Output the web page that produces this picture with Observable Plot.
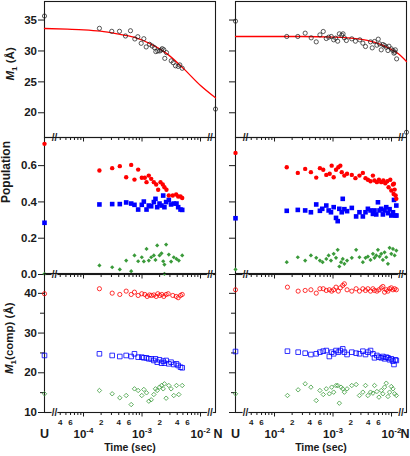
<!DOCTYPE html>
<html><head><meta charset="utf-8">
<script src="https://cdn.jsdelivr.net/npm/d3@7"></script>
<script src="https://cdn.jsdelivr.net/npm/@observablehq/plot@0.6"></script>
<style>
html,body{margin:0;padding:0;background:#fff;}
#chart{position:relative;width:410px;height:456px;overflow:hidden;background:#fff;}
#chart svg{position:absolute;}
</style></head><body><div id="chart"></div>
<script>
// ---------- data (time in sec, value) ----------
const xMin = 2.153e-5, xMax = 1.803e-2;        // positions of U and N
const breakTimes = [3.2e-5, 1.45e-2];
const majorTicks = [1e-4, 1e-3, 1e-2];
const majorTickText = ["10^-4", "10^-3", "10^-2"];
const minorTicks = [4e-5,5e-5,6e-5,7e-5,8e-5,9e-5,2e-4,3e-4,4e-4,5e-4,6e-4,7e-4,8e-4,9e-4,2e-3,3e-3,4e-3,5e-3,6e-3,7e-3,8e-3,9e-3];
const minorLabelTicks = [4e-5, 6e-5, 2e-4, 4e-4, 6e-4, 2e-3, 4e-3, 6e-3];
const minorLabelText = ["4", "6", "2", "4", "6", "2", "4", "6"];
const endText = ["U", "N"];

const m1TicksY = [20, 25, 30, 35];
const popTicksY = [0, 0.2, 0.4, 0.6];
const compTicksY = [10, 20, 30, 40];
const compMinorY = [15, 25, 35];

// top row: M1
const m1L = [[1.87e-4,33.66],[3.04e-4,33.18],[4.12e-4,33.18],[5.22e-4,32.42],[6.35e-4,33.27],[7.53e-4,31.94],[8.47e-4,32.30],[9.68e-4,31.24],[1.074e-3,31.98],[1.178e-3,30.65],[1.343e-3,31.08],[1.493e-3,30.80],[1.633e-3,30.53],[1.722e-3,29.89],[1.862e-3,30.00],[2.014e-3,30.00],[2.128e-3,30.16],[2.213e-3,30.37],[2.355e-3,30.20],[2.449e-3,28.80],[2.618e-3,29.73],[3.155e-3,28.40],[3.412e-3,28.10],[3.733e-3,27.60],[4.150e-3,27.50],[4.426e-3,27.74],[4.864e-3,27.20]];
const m1L_U = 35.65, m1L_N = 20.6;
const fitL = [[2.153e-5,33.63],[5.26e-5,33.52],[1.012e-4,33.42],[1.95e-4,33.2],[3.77e-4,32.77],[7.24e-4,32.23],[1.396e-3,31.15],[2.69e-3,29.53],[5.18e-3,27.1],[1e-2,24.4],[1.803e-2,22.41]];

const m1R = [[1.618e-4,32.34],[2.500e-4,32.34],[3.342e-4,32.88],[4.236e-4,32.12],[5.164e-4,31.47],[5.970e-4,32.60],[6.808e-4,33.15],[7.674e-4,32.01],[8.414e-4,32.23],[9.333e-4,32.34],[1.026e-3,31.80],[1.109e-3,32.07],[1.202e-3,31.58],[1.282e-3,32.77],[1.409e-3,32.55],[1.483e-3,32.77],[1.563e-3,32.12],[1.690e-3,31.69],[2.094e-3,31.96],[2.415e-3,31.58],[2.871e-3,31.80],[3.236e-3,31.26],[3.589e-3,30.72],[4.375e-3,31.47],[4.677e-3,30.50],[5.117e-3,31.53],[5.623e-3,30.93],[5.929e-3,31.91],[6.237e-3,31.15],[6.668e-3,30.18],[7.145e-3,31.04],[7.603e-3,30.88],[8.128e-3,30.61],[8.690e-3,30.07],[9.036e-3,30.77],[9.908e-3,30.34],[1.059e-2,30.07],[1.102e-2,29.64],[1.161e-2,30.18],[1.222e-2,28.72],[1.140e-2,29.80]];
const m1R_U = 34.82, m1R_N = 16.85;
const fitR = [[2.153e-5,32.34],[2.82e-4,32.34],[1.04e-3,32.25],[2.69e-3,31.96],[5.06e-3,31.42],[8.81e-3,30.5],[1.31e-2,29.53],[1.803e-2,28.29]];

// middle row: population
const popRedL = [[1.87e-4,0.573],[3.09e-4,0.586],[4.17e-4,0.597],[5.36e-4,0.536],[6.53e-4,0.604],[7.43e-4,0.523],[8.59e-4,0.578],[9.91e-4,0.533],[1.117e-3,0.533],[1.194e-3,0.509],[1.306e-3,0.545],[1.435e-3,0.527],[1.592e-3,0.509],[1.746e-3,0.496],[1.888e-3,0.467],[2.070e-3,0.509],[2.265e-3,0.496],[2.415e-3,0.481],[2.618e-3,0.467],[2.871e-3,0.435],[3.357e-3,0.435],[3.837e-3,0.441],[4.150e-3,0.430],[4.550e-3,0.430],[4.864e-3,0.422]];
const popBlueL = [[1.87e-4,0.386],[3.09e-4,0.388],[4.17e-4,0.388],[5.36e-4,0.397],[6.53e-4,0.391],[7.43e-4,0.384],[8.59e-4,0.358],[9.91e-4,0.384],[1.074e-3,0.402],[1.194e-3,0.358],[1.306e-3,0.380],[1.435e-3,0.376],[1.592e-3,0.399],[1.698e-3,0.417],[1.816e-3,0.371],[1.991e-3,0.391],[2.153e-3,0.380],[2.301e-3,0.435],[2.415e-3,0.371],[2.582e-3,0.399],[2.871e-3,0.411],[3.141e-3,0.386],[3.491e-3,0.391],[3.882e-3,0.391],[4.150e-3,0.371],[4.550e-3,0.358],[4.864e-3,0.356]];
const popGreenL = [[1.87e-4,0.050],[3.09e-4,0.040],[4.17e-4,0.028],[5.36e-4,0.077],[6.53e-4,0.018],[7.43e-4,0.105],[8.59e-4,0.073],[9.91e-4,0.095],[1.074e-3,0.072],[1.194e-3,0.141],[1.306e-3,0.077],[1.435e-3,0.095],[1.592e-3,0.105],[1.698e-3,0.080],[1.816e-3,0.160],[1.991e-3,0.105],[2.153e-3,0.117],[2.301e-3,0.073],[2.415e-3,0.055],[2.582e-3,0.165],[2.415e-3,0.004],[2.871e-3,0.110],[3.141e-3,0.071],[3.491e-3,0.095],[3.882e-3,0.086],[4.256e-3,0.077],[4.864e-3,0.105]];
const popUL = [0.72, 0.285, 0.004];   // red, blue, green

const popRedR = [[1.618e-4,0.591],[2.500e-4,0.560],[3.342e-4,0.582],[4.188e-4,0.564],[5.164e-4,0.534],[5.970e-4,0.586],[6.808e-4,0.577],[7.674e-4,0.549],[8.770e-4,0.555],[9.484e-4,0.600],[1.026e-3,0.536],[1.125e-3,0.577],[1.233e-3,0.591],[1.334e-3,0.600],[1.409e-3,0.564],[1.563e-3,0.545],[1.738e-3,0.555],[2.094e-3,0.549],[2.415e-3,0.531],[2.831e-3,0.545],[3.236e-3,0.560],[3.589e-3,0.531],[3.945e-3,0.522],[4.375e-3,0.514],[4.808e-3,0.545],[5.117e-3,0.518],[5.623e-3,0.509],[6.095e-3,0.522],[6.668e-3,0.509],[7.228e-3,0.518],[7.816e-3,0.503],[8.453e-3,0.514],[8.913e-3,0.481],[9.528e-3,0.522],[9.908e-3,0.463],[1.059e-2,0.496],[1.086e-2,0.444],[1.130e-2,0.468],[1.175e-2,0.435],[1.208e-2,0.417],[1.100e-2,0.500]];
const popBlueR = [[1.618e-4,0.351],[2.500e-4,0.356],[3.342e-4,0.353],[4.188e-4,0.343],[5.164e-4,0.386],[5.970e-4,0.351],[6.546e-4,0.362],[7.674e-4,0.380],[8.414e-4,0.353],[9.226e-4,0.343],[1.026e-3,0.371],[1.125e-3,0.312],[1.202e-3,0.294],[1.282e-3,0.362],[1.409e-3,0.343],[1.466e-3,0.417],[1.563e-3,0.360],[1.738e-3,0.349],[2.094e-3,0.367],[2.483e-3,0.320],[2.831e-3,0.343],[3.236e-3,0.320],[3.589e-3,0.343],[3.945e-3,0.362],[4.375e-3,0.353],[4.808e-3,0.334],[5.117e-3,0.353],[5.483e-3,0.331],[5.861e-3,0.398],[6.237e-3,0.353],[6.668e-3,0.362],[7.112e-3,0.331],[7.603e-3,0.353],[8.128e-3,0.371],[8.690e-3,0.338],[9.268e-3,0.360],[9.908e-3,0.325],[1.059e-2,0.343],[1.102e-2,0.411],[1.161e-2,0.325],[1.208e-2,0.380],[1.215e-2,0.325]];
const popGreenR = [[1.618e-4,0.068],[2.500e-4,0.095],[3.342e-4,0.077],[4.188e-4,0.105],[5.164e-4,0.092],[5.970e-4,0.077],[6.637e-4,0.068],[7.674e-4,0.086],[8.414e-4,0.105],[9.226e-4,0.077],[1.026e-3,0.114],[1.125e-3,0.092],[1.202e-3,0.136],[1.282e-3,0.044],[1.371e-3,0.068],[1.466e-3,0.086],[1.563e-3,0.059],[1.738e-3,0.077],[2.094e-3,0.092],[2.483e-3,0.136],[2.831e-3,0.095],[3.236e-3,0.068],[3.589e-3,0.092],[3.945e-3,0.099],[4.375e-3,0.080],[4.808e-3,0.114],[5.117e-3,0.092],[5.483e-3,0.105],[5.861e-3,0.136],[6.237e-3,0.099],[6.668e-3,0.114],[7.112e-3,0.080],[7.603e-3,0.122],[8.128e-3,0.095],[8.690e-3,0.059],[9.268e-3,0.147],[9.908e-3,0.114],[1.059e-2,0.141],[1.130e-2,0.105],[1.208e-2,0.132]];
const popUR = [0.670, 0.310, 0.028];

// bottom row: M1(comp)
const compRedL = [[1.87e-4,41.16],[3.09e-4,40.05],[4.17e-4,39.72],[5.36e-4,40.56],[6.53e-4,39.72],[7.43e-4,40.30],[8.59e-4,39.47],[9.91e-4,39.90],[1.117e-3,39.72],[1.225e-3,39.22],[1.343e-3,39.60],[1.452e-3,39.47],[1.592e-3,39.60],[1.746e-3,39.22],[1.862e-3,39.90],[2.014e-3,39.47],[2.178e-3,39.72],[2.355e-3,39.22],[2.582e-3,39.72],[2.799e-3,39.90],[3.357e-3,39.47],[3.837e-3,39.22],[4.150e-3,38.90],[4.550e-3,39.47],[4.864e-3,39.72]];
const compBlueL = [[1.87e-4,24.78],[3.09e-4,24.36],[4.17e-4,24.10],[5.36e-4,24.36],[6.53e-4,24.10],[7.43e-4,24.78],[8.59e-4,23.93],[9.91e-4,23.93],[1.074e-3,23.77],[1.194e-3,23.77],[1.306e-3,23.52],[1.435e-3,23.52],[1.592e-3,23.10],[1.698e-3,23.52],[1.816e-3,22.67],[1.991e-3,23.27],[2.153e-3,22.42],[2.301e-3,22.93],[2.415e-3,22.42],[2.582e-3,23.10],[2.871e-3,22.26],[3.141e-3,22.67],[3.491e-3,22.09],[3.882e-3,22.26],[4.150e-3,21.84],[4.550e-3,21.41],[4.864e-3,21.26]];
const compGreenL = [[1.87e-4,15.54],[3.09e-4,14.71],[4.17e-4,13.70],[5.36e-4,14.28],[6.53e-4,12.00],[7.43e-4,15.96],[8.59e-4,15.54],[9.91e-4,14.28],[1.074e-3,15.80],[1.194e-3,14.96],[1.306e-3,12.85],[1.435e-3,13.20],[1.592e-3,14.53],[1.698e-3,15.96],[1.816e-3,15.54],[1.991e-3,16.38],[2.153e-3,16.80],[2.301e-3,15.96],[2.415e-3,17.22],[2.582e-3,13.60],[2.871e-3,16.80],[3.141e-3,15.96],[3.491e-3,14.28],[3.882e-3,16.80],[4.256e-3,14.53],[4.864e-3,16.80]];
const compUL = [39.9, 24.36, 14.71];

const compRedR = [[1.663e-4,41.56],[2.535e-4,40.56],[3.342e-4,40.73],[4.188e-4,40.90],[5.164e-4,40.05],[5.970e-4,41.16],[6.808e-4,41.16],[7.674e-4,40.73],[8.650e-4,40.90],[9.484e-4,40.56],[1.026e-3,40.90],[1.125e-3,41.56],[1.233e-3,40.56],[1.334e-3,41.40],[1.466e-3,41.99],[1.563e-3,42.40],[1.738e-3,40.90],[2.094e-3,40.56],[2.483e-3,41.16],[2.831e-3,40.56],[3.236e-3,41.16],[3.589e-3,40.73],[3.945e-3,41.16],[4.375e-3,40.56],[4.808e-3,41.16],[5.117e-3,40.73],[5.623e-3,40.56],[6.095e-3,40.90],[6.668e-3,41.40],[7.112e-3,41.73],[7.603e-3,40.30],[8.128e-3,40.90],[8.690e-3,40.56],[9.268e-3,41.16],[9.908e-3,41.40],[1.059e-2,40.90],[1.130e-2,41.16],[1.208e-2,40.90]];
const compBlueR = [[1.663e-4,25.44],[2.535e-4,25.19],[3.342e-4,24.94],[4.188e-4,24.60],[5.164e-4,24.78],[5.970e-4,25.19],[6.808e-4,25.44],[7.674e-4,25.60],[8.650e-4,24.10],[9.484e-4,25.19],[1.026e-3,24.78],[1.125e-3,25.60],[1.233e-3,25.19],[1.334e-3,25.60],[1.466e-3,26.03],[1.563e-3,25.19],[1.738e-3,24.60],[2.094e-3,25.19],[2.483e-3,24.94],[2.831e-3,24.78],[3.236e-3,25.44],[3.589e-3,24.60],[3.945e-3,25.19],[4.375e-3,25.60],[4.808e-3,24.78],[5.117e-3,23.77],[5.623e-3,24.36],[6.095e-3,23.93],[6.668e-3,23.77],[7.112e-3,24.10],[7.603e-3,23.52],[8.128e-3,23.93],[8.690e-3,23.77],[9.268e-3,23.27],[9.908e-3,23.52],[1.059e-2,22.93],[1.102e-2,22.09],[1.161e-2,23.27],[1.208e-2,23.10]];
const compGreenR = [[1.663e-4,14.28],[2.535e-4,15.71],[3.342e-4,17.22],[4.188e-4,16.38],[5.164e-4,13.02],[5.970e-4,15.54],[6.808e-4,14.53],[7.674e-4,15.96],[8.650e-4,14.71],[9.484e-4,16.38],[1.026e-3,15.12],[1.125e-3,16.80],[1.202e-3,16.80],[1.282e-3,12.35],[1.371e-3,16.38],[1.466e-3,15.96],[1.563e-3,15.12],[1.738e-3,15.96],[2.094e-3,16.80],[2.483e-3,17.05],[2.831e-3,14.28],[3.236e-3,15.12],[3.589e-3,16.80],[3.945e-3,14.28],[4.375e-3,15.12],[4.808e-3,14.87],[5.117e-3,16.80],[5.623e-3,15.29],[6.095e-3,13.86],[6.668e-3,15.54],[7.112e-3,14.71],[7.603e-3,16.38],[8.128e-3,17.38],[8.690e-3,14.03],[9.268e-3,15.12],[9.908e-3,16.55],[1.059e-2,15.96],[1.130e-2,14.71],[1.208e-2,14.28]];
const compUR = [40.9, 25.36, 14.71];

const yLabels = ["M1 (Å)", "Population", "M1(comp) (Å)"];
const xLabel = "Time (sec)";

// ---------- styling ----------
const FONT = "'Liberation Sans', Arial, Helvetica, sans-serif";
const RED = "#ff0000", BLUE = "#0000ff", GREEN = "#3a9a3a", INK = "#1a1a1a";

const cols = [
  {left: 0, width: 220, ml: 44, mr: 5, labels: true, nDx: 2.5},
  {left: 191, width: 219, ml: 44, mr: 4, labels: false, nDx: -1.5}
];
const rows = [
  {top: 0, height: 150, mt: 1, mb: 13},
  {top: 130, height: 160, mt: 7, mb: 16},
  {top: 260, height: 196, mt: 13, mb: 44}
];

const styles = {
  blackOpen: {symbol: "circle", r: 2.1, fill: "none", stroke: "#222", strokeWidth: 0.75},
  redFill: {symbol: "circle", r: 2.2, fill: RED},
  blueFill: {symbol: "square", r: 2.6, fill: BLUE},
  greenFill: {symbol: "diamond2", r: 1.9, fill: GREEN},
  redOpen: {symbol: "circle", r: 2.1, fill: "none", stroke: RED, strokeWidth: 0.8},
  blueOpen: {symbol: "square", r: 2.6, fill: "none", stroke: BLUE, strokeWidth: 0.8},
  greenOpen: {symbol: "diamond2", r: 2.0, fill: "none", stroke: GREEN, strokeWidth: 0.8}
};

function series(data, st) {
  return Plot.dot(data, {x: d => d[0], y: d => d[1], ...st});
}
function atU(value, st) {
  return Plot.dot([value], {x: () => xMin, y: d => d, ...st});
}
function atN(value, st) {
  return Plot.dot([value], {x: () => xMax, y: d => d, ...st});
}

function panel(col, rowIndex, yDomain, yTicks, yFmt, yMinor, dataMarks, labelOpts) {
  const row = rows[rowIndex];
  const bottom = rowIndex === 2;
  const marks = [
    Plot.frame({stroke: INK, strokeWidth: 1.1}),
    Plot.axisY({ticks: yTicks, tickSize: 6, tickPadding: 1.5, label: null,
      tickFormat: col.labels ? yFmt : () => "", fontSize: 11.5, stroke: INK}),
    Plot.axisX({ticks: majorTicks, tickSize: 4.5, tickPadding: 12.5, label: null,
      tickFormat: bottom ? (d => majorTickText[majorTicks.indexOf(d)]) : () => "", fontSize: 11.5, stroke: INK}),
    Plot.axisX({ticks: minorTicks, tickSize: 3, label: null, tickFormat: () => "", stroke: INK}),
    Plot.text(breakTimes, {x: d => d, frameAnchor: "bottom", text: () => "//", lineAnchor: "middle",
      fontSize: 10, fontWeight: "bold", fill: INK, stroke: "white", strokeWidth: 1.5, paintOrder: "stroke"})
  ];
  if (yMinor) marks.push(Plot.axisY({ticks: yMinor, tickSize: 4, tickFormat: () => "", label: null, stroke: INK}));
  if (bottom) {
    marks.push(Plot.text(minorLabelTicks, {x: d => d, frameAnchor: "bottom", dy: 7, lineAnchor: "top",
      text: (d, i) => minorLabelText[i], fontSize: 8, fontWeight: "bold", fill: INK}));
    marks.push(Plot.text([xMin, xMax], {x: d => d, frameAnchor: "bottom", dy: 16.5, lineAnchor: "top",
      text: (d, i) => endText[i], fontSize: 12.5, fontWeight: "bold", fill: INK}));
    marks.push(Plot.text([xLabel], {frameAnchor: "bottom", dy: 31, lineAnchor: "top", fontSize: 10.5, fontWeight: "bold", fill: INK}));
  }
  if (col.labels) {
    marks.push(Plot.text([yLabels[rowIndex]], {frameAnchor: "left", rotate: -90, dx: labelOpts.dx, dy: labelOpts.dy,
      fontSize: labelOpts.fontSize, fontWeight: "bold", fill: INK}));
  }
  marks.push(...dataMarks);
  const svg = Plot.plot({
    width: col.width, height: row.height,
    marginLeft: col.ml, marginRight: col.mr, marginTop: row.mt, marginBottom: row.mb,
    style: {background: "transparent", overflow: "visible", fontFamily: FONT, fontWeight: "bold", color: INK, fontSize: "11.5px"},
    x: {type: "log", domain: [xMin, xMax]},
    y: {domain: yDomain},
    marks
  });
  svg.style.left = col.left + "px";
  svg.style.top = row.top + "px";
  // nudge the "N" end label, as in the reference
  d3.select(svg).selectAll("text").filter(function() { return this.textContent === "N"; })
    .attr("dx", col.nDx);
  document.getElementById("chart").append(svg);
}

const fmt0 = d => String(d);
const fmt1 = d3.format(".1f");

// top row
panel(cols[0], 0, [16, 38], m1TicksY, fmt0, null, [
  Plot.line(fitL, {x: d => d[0], y: d => d[1], stroke: RED, strokeWidth: 1.3, curve: "monotone-x"}),
  series(m1L, styles.blackOpen), atU(m1L_U, styles.blackOpen), atN(m1L_N, styles.blackOpen)
], {dx: -34, dy: 11, fontSize: 11.5});
panel(cols[1], 0, [16, 38], m1TicksY, fmt0, null, [
  Plot.line(fitR, {x: d => d[0], y: d => d[1], stroke: RED, strokeWidth: 1.3, curve: "monotone-x"}),
  series(m1R, styles.blackOpen), atU(m1R_U, styles.blackOpen), atN(m1R_N, styles.blackOpen)
]);

// middle row
panel(cols[0], 1, [0, 0.755], popTicksY, fmt1, null, [
  series(popGreenL, styles.greenFill), series(popBlueL, styles.blueFill), series(popRedL, styles.redFill),
  atU(popUL[0], styles.redFill), atU(popUL[1], styles.blueFill), atU(popUL[2], styles.greenFill)
], {dx: -38, dy: -3, fontSize: 12});
panel(cols[1], 1, [0, 0.755], popTicksY, fmt1, null, [
  series(popGreenR, styles.greenFill), series(popBlueR, styles.blueFill), series(popRedR, styles.redFill),
  atU(popUR[0], styles.redFill), atU(popUR[1], styles.blueFill), atU(popUR[2], styles.greenFill)
]);

// bottom row
panel(cols[0], 2, [10, 45], compTicksY, fmt0, compMinorY, [
  series(compGreenL, styles.greenOpen), series(compBlueL, styles.blueOpen), series(compRedL, styles.redOpen),
  atU(compUL[0], styles.redOpen), atU(compUL[1], styles.blueOpen), atU(compUL[2], styles.greenOpen)
], {dx: -35, dy: 31, fontSize: 11.5});
panel(cols[1], 2, [10, 45], compTicksY, fmt0, compMinorY, [
  series(compGreenR, styles.greenOpen), series(compBlueR, styles.blueOpen), series(compRedR, styles.redOpen),
  atU(compUR[0], styles.redOpen), atU(compUR[1], styles.blueOpen), atU(compUR[2], styles.greenOpen)
]);

// typographic touch-ups: superscript exponents, italic M with subscript 1
d3.selectAll("#chart text").each(function() {
  const t = this.textContent;
  let m;
  if ((m = /^10\^(-?\d)$/.exec(t))) {
    const sel = d3.select(this); sel.text("");
    sel.append("tspan").text("10");
    sel.append("tspan").attr("dy", "-5").attr("font-size", "8px").text(m[1]);
  } else if ((m = /^M1(.*)$/.exec(t))) {
    const sel = d3.select(this); sel.text("");
    sel.append("tspan").attr("font-style", "italic").text("M");
    sel.append("tspan").attr("dy", "3").attr("font-size", "8px").text("1");
    sel.append("tspan").attr("dy", "-3").text(m[1]);
  }
});
</script>
</body></html>
